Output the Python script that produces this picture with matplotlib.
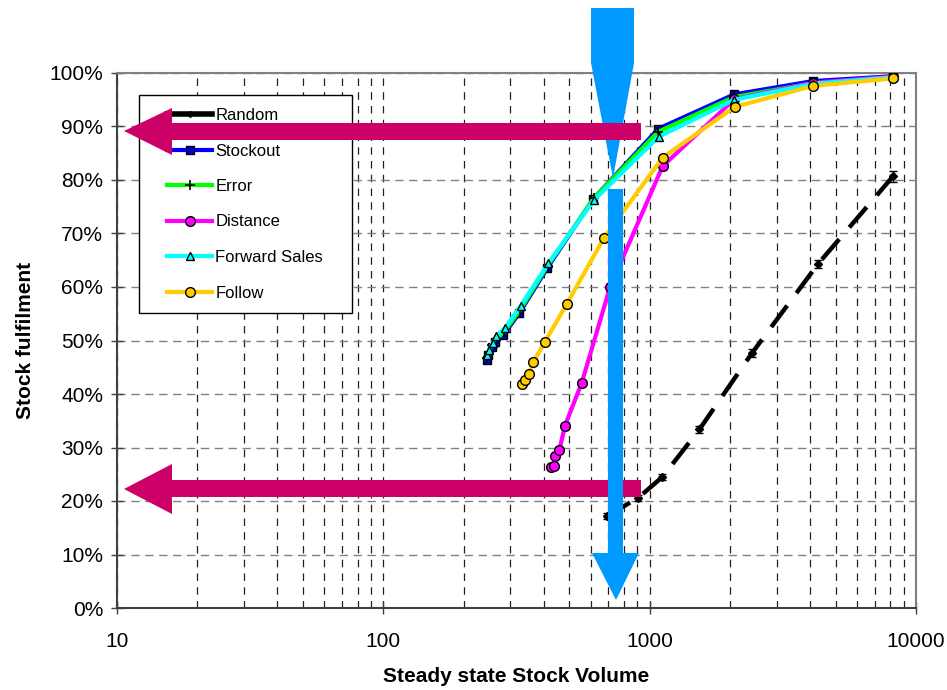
import matplotlib
matplotlib.use("Agg")
import matplotlib.pyplot as plt
import matplotlib.ticker as ticker
from matplotlib.patches import Polygon, Rectangle
from matplotlib.lines import Line2D
import numpy as np

plt.rcParams['font.family'] = ['Liberation Sans', 'DejaVu Sans']

# data (x = steady state stock volume, y = fulfilment %)
random_x = [692, 906, 1117, 1538, 2426, 4285, 8203]
random_y = [17.2, 20.6, 24.5, 33.4, 47.7, 64.3, 80.7]
random_err = [0.5, 0.6, 0.6, 0.6, 0.7, 0.8, 1.0]

stockout_x = [244, 248, 255, 262, 282, 324, 412, 615, 1079, 2075, 4121, 8220]
stockout_y = [46.4, 47.3, 48.8, 49.8, 51.0, 55.1, 63.5, 76.5, 89.6, 96.0, 98.5, 99.4]

error_x = [245, 249, 256, 264, 284, 326, 414, 617, 1075, 2070, 4110, 8200]
error_y = [46.8, 47.7, 49.1, 50.2, 51.6, 55.7, 64.0, 76.6, 89.0, 95.5, 98.1, 99.0]

distance_x = [425, 438, 441, 458, 481, 556, 710, 1119, 2080, 4121, 8220]
distance_y = [26.3, 26.6, 28.4, 29.5, 34.1, 42.1, 60.0, 82.6, 95.1, 98.2, 99.3]

fwd_x = [246, 250, 258, 266, 286, 328, 416, 617, 1082, 2078, 4121, 8220]
fwd_y = [47.3, 48.3, 49.6, 50.9, 52.3, 56.5, 64.4, 76.2, 88.1, 95.0, 98.0, 99.2]

follow_x = [333, 341, 351, 366, 405, 488, 674, 1119, 2094, 4121, 8220]
follow_y = [41.9, 42.7, 43.7, 46.0, 49.8, 56.8, 69.2, 84.2, 93.7, 97.6, 99.0]

x_ticks = [10, 100, 1000, 10000]
y_ticks = list(range(0, 101, 10))

W, H = 947, 690
fig = plt.figure(figsize=(W / 100, H / 100), dpi=100)
ax = fig.add_axes([117 / W, 82 / H, 799 / W, 535 / H])

lw = 3
ax.errorbar(random_x, random_y, yerr=random_err, color='black', lw=3.2, ls=(0, (6, 3.5)),
            marker='D', ms=4, capsize=3, elinewidth=1, zorder=3)
l_st, = ax.plot(stockout_x, stockout_y, color='#0000FF', lw=lw, marker='s', ms=6,
                mfc='#0000CC', mec='black', zorder=3)
l_er, = ax.plot(error_x, error_y, color='#00FF00', lw=lw, marker='+', ms=7, mec='black',
                mew=1.2, zorder=3)
l_di, = ax.plot(distance_x, distance_y, color='#FF00FF', lw=lw, marker='o', ms=7,
                mfc='#FF00FF', mec='black', zorder=3)
l_fw, = ax.plot(fwd_x, fwd_y, color='#00FFFF', lw=lw, marker='^', ms=6,
                mfc='#00FFFF', mec='black', zorder=3)
l_fo, = ax.plot(follow_x, follow_y, color='#FFCC00', lw=lw, marker='o', ms=7,
                mfc='#FFCC00', mec='black', zorder=3)
l_ra = Line2D([], [], color='black', lw=4, marker='D', ms=3)

ax.set_xscale('log')
ax.set_xlim(10, 10000)
ax.set_ylim(0, 100)
ax.set_xticks(x_ticks)
ax.xaxis.set_major_formatter(ticker.FuncFormatter(lambda v, p: '%d' % v))
ax.xaxis.set_minor_locator(ticker.LogLocator(base=10, subs=np.arange(2, 10)))
ax.xaxis.set_minor_formatter(ticker.NullFormatter())
ax.set_yticks(y_ticks)
ax.yaxis.set_major_formatter(ticker.FuncFormatter(lambda v, p: '%d%%' % v))

ax.tick_params(axis='both', which='major', direction='inout', length=8, width=1,
               color='#404040', labelsize=15)
ax.tick_params(axis='x', which='major', pad=13)
ax.tick_params(axis='y', which='major', pad=6)
ax.tick_params(axis='x', which='minor', length=0)

ax.grid(True, axis='y', which='major', ls=(0, (6, 4)), color='#808080', lw=1)
ax.grid(True, axis='x', which='both', ls=(0, (6, 5)), color='#202020', lw=0.9)
ax.set_axisbelow(True)

for s in ['left', 'bottom']:
    ax.spines[s].set_color('#404040')
for s in ['top', 'right']:
    ax.spines[s].set_color('#808080')
for s in ax.spines.values():
    s.set_linewidth(1.5)

ax.set_xlabel('Steady state Stock Volume', fontsize=15, fontweight='bold', labelpad=12)
ax.set_ylabel('Stock fulfilment', fontsize=15, fontweight='bold', labelpad=10)

# legend box drawn separately so the padding can match
ax.add_patch(Rectangle((22 / 799, 295 / 535), 213 / 799, 218 / 535, transform=ax.transAxes,
                       fc='white', ec='black', lw=1, zorder=4))
leg = ax.legend([l_ra, l_st, l_er, l_di, l_fw, l_fo],
                ['Random', 'Stockout', 'Error', 'Distance', 'Forward Sales', 'Follow'],
                loc='upper left', bbox_to_anchor=(50 / 799, 500 / 535), borderaxespad=0,
                fontsize=12, frameon=False, labelspacing=1.23, handlelength=2.7,
                handletextpad=0.2, borderpad=0)
leg.set_zorder(5)


def px(pts):
    return [(x / W, 1 - y / H) for x, y in pts]


blue = '#0099FF'
pink = '#CC0066'
# funnel wedge at the top
fig.add_artist(Polygon(px([(591, 8), (634, 8), (634, 63), (613, 178), (591, 63)]),
                       closed=True, fc=blue, ec='none', transform=fig.transFigure, zorder=5))
# horizontal arrows
for cy, h1, h2, h3, h4 in [(131, 123, 140, 108, 155), (489, 480, 497, 464, 514)]:
    fig.add_artist(Polygon(px([(641, h1), (172, h1), (172, h3), (124, cy),
                               (172, h4), (172, h2), (641, h2)]),
                           closed=True, fc=pink, ec='none', transform=fig.transFigure, zorder=6))
# vertical down arrow
fig.add_artist(Polygon(px([(608, 189), (623, 189), (623, 553), (639, 553), (616, 600),
                           (592, 553), (608, 553)]),
                       closed=True, fc=blue, ec='none', transform=fig.transFigure, zorder=7))

fig.savefig('out.png', dpi=100)
